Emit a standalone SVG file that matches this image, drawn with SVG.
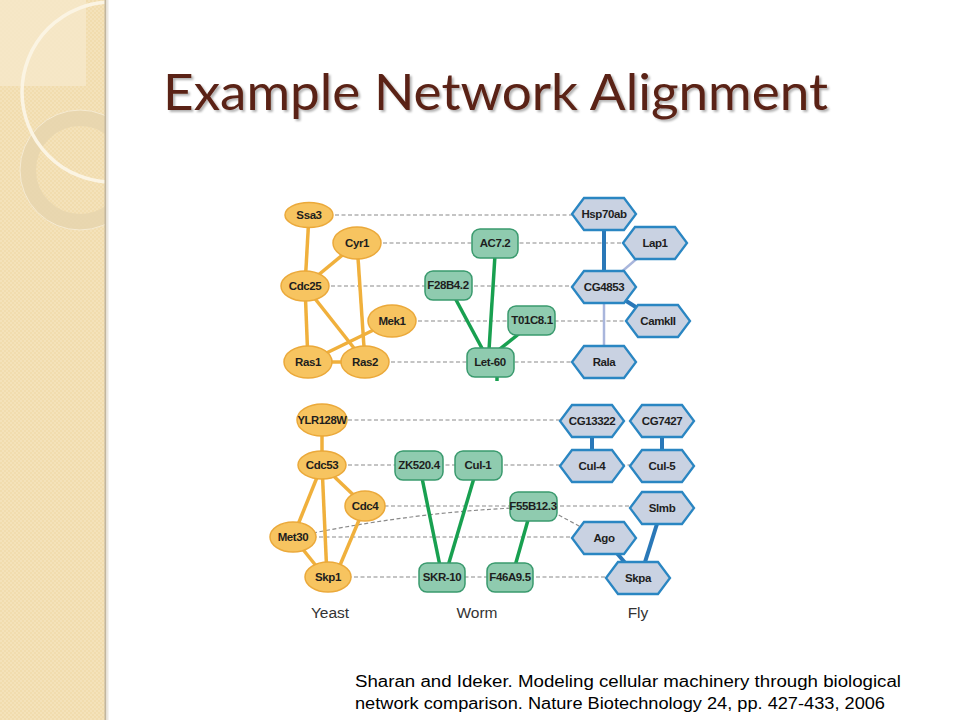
<svg xmlns="http://www.w3.org/2000/svg" width="960" height="720" viewBox="0 0 960 720">
<style>
.yn{fill:#F7C460;stroke:#EBA93A;stroke-width:1.5}
.wn{fill:#8FCBAF;stroke:#3A9A6E;stroke-width:1.5}
.fn{fill:#C9D2E2;stroke:#2A86C2;stroke-width:2.3}
.lbl{font-family:"Liberation Sans",Arial,sans-serif;font-weight:bold;font-size:11.5px;fill:#1E1E1E;text-anchor:middle;letter-spacing:-0.4px}
.sp{font-family:"Liberation Sans",Arial,sans-serif;font-size:15.5px;fill:#333;text-anchor:middle}
.ye{stroke:#F0B03C;stroke-width:3.5;fill:none}
.ge{stroke:#18A050;stroke-width:3.5;fill:none}
.bt{stroke:#2A78B8;stroke-width:4;fill:none}
.bl{stroke:#A9B6DC;stroke-width:2.5;fill:none}
.da{stroke:#8A8A8A;stroke-width:1.2;stroke-dasharray:4 2.5;fill:none}
</style>
<defs>
<pattern id="chk" width="4" height="4" patternUnits="userSpaceOnUse">
<rect width="4" height="4" fill="#F1DCAE"/>
<rect width="2" height="2" fill="#F4E2BA"/>
<rect x="2" y="2" width="2" height="2" fill="#F4E2BA"/>
</pattern>
<clipPath id="strip"><rect x="0" y="0" width="105" height="720"/></clipPath>
<filter id="shadow" x="-5%" y="-20%" width="110%" height="150%">
<feDropShadow dx="2" dy="2" stdDeviation="1" flood-color="#000" flood-opacity="0.3"/>
</filter>
<polygon id="hex" points="-32,0 -20,-16 20,-16 32,0 20,16 -20,16"/>
</defs>

<rect width="960" height="720" fill="#FFFFFF"/>

<g id="sidebar">
<rect x="0" y="0" width="105" height="720" fill="url(#chk)"/>
<g clip-path="url(#strip)">
<rect x="0" y="0" width="86" height="86" fill="#F6E9CB" opacity="0.8"/>
<circle cx="80" cy="170" r="52" fill="none" stroke="#E6D5AE" stroke-width="16" opacity="0.8"/>
<circle cx="80" cy="170" r="60" fill="none" stroke="#F6EBD2" stroke-width="1"/>
<circle cx="112" cy="92" r="90" fill="none" stroke="#FBF4E3" stroke-width="3.5"/>
</g>
<line x1="105.5" y1="0" x2="105.5" y2="720" stroke="#C2B69E" stroke-width="2"/>
<line x1="107.5" y1="0" x2="107.5" y2="720" stroke="#ECE8E0" stroke-width="2"/>
</g>

<g id="title">
<text x="163" y="110" font-family="Lato,'Open Sans',sans-serif" font-size="51" fill="#5A2214" filter="url(#shadow)" textLength="665" lengthAdjust="spacingAndGlyphs">Example Network Alignment</text>
</g>

<g id="connectors">
<line class="da" x1="309" y1="215" x2="604" y2="215"/>
<line class="da" x1="357" y1="243" x2="655" y2="243"/>
<line class="da" x1="305" y1="286" x2="604" y2="286"/>
<line class="da" x1="392" y1="321" x2="658" y2="321"/>
<line class="da" x1="365" y1="362" x2="604" y2="362"/>
<line class="da" x1="322" y1="420" x2="592" y2="420"/>
<line class="da" x1="322" y1="465" x2="662" y2="465"/>
<line class="da" x1="365" y1="506" x2="662" y2="506"/>
<path class="da" d="M 313 533 Q 420 512 515 508"/>
<line class="da" x1="553" y1="512" x2="592" y2="533"/>
<line class="da" x1="293" y1="537" x2="604" y2="537"/>
<line class="da" x1="328" y1="577" x2="638" y2="577"/>
<line class="ye" x1="309" y1="215" x2="305" y2="286"/>
<line class="ye" x1="357" y1="243" x2="305" y2="286"/>
<line class="ye" x1="357" y1="243" x2="365" y2="362"/>
<line class="ye" x1="305" y1="286" x2="308" y2="362"/>
<line class="ye" x1="305" y1="286" x2="365" y2="362"/>
<line class="ye" x1="392" y1="321" x2="308" y2="362"/>
<line class="ye" x1="308" y1="362" x2="365" y2="362"/>
<line class="ye" x1="322" y1="420" x2="322" y2="465"/>
<line class="ye" x1="322" y1="465" x2="293" y2="537"/>
<line class="ye" x1="322" y1="465" x2="327" y2="577"/>
<line class="ye" x1="322" y1="465" x2="365" y2="506"/>
<line class="ye" x1="365" y1="506" x2="335" y2="577"/>
<line class="ye" x1="293" y1="537" x2="325" y2="577"/>
<line class="ge" x1="495" y1="255" x2="489" y2="350"/>
<line class="ge" x1="455" y1="298" x2="484" y2="352"/>
<line class="ge" x1="520" y1="333" x2="496" y2="352"/>
<line class="ge" x1="497" y1="376" x2="497" y2="381" stroke-width="2.5"/>
<line class="ge" x1="422" y1="478" x2="440" y2="566"/>
<line class="ge" x1="474" y1="478" x2="448" y2="566"/>
<line class="ge" x1="528" y1="520" x2="515" y2="566"/>
<line class="bt" x1="604" y1="214" x2="604" y2="287"/>
<line class="bl" x1="655" y1="243" x2="604" y2="287"/>
<line class="bt" x1="604" y1="287" x2="658" y2="321"/>
<line class="bl" x1="604" y1="287" x2="604" y2="362"/>
<line class="bt" x1="592" y1="421" x2="592" y2="466"/>
<line class="bt" x1="662" y1="421" x2="662" y2="466"/>
<line class="bt" x1="662" y1="508" x2="640" y2="578"/>
<line class="bt" x1="604" y1="538" x2="638" y2="578"/>
</g>

<g id="n-Ssa3"><ellipse class="yn" cx="309" cy="215" rx="24" ry="12.5"/><text class="lbl" x="309" y="219">Ssa3</text></g>
<g id="n-Cyr1"><ellipse class="yn" cx="357" cy="243" rx="24" ry="16"/><text class="lbl" x="357" y="247">Cyr1</text></g>
<g id="n-Cdc25"><ellipse class="yn" cx="305" cy="286" rx="24" ry="15"/><text class="lbl" x="305" y="290">Cdc25</text></g>
<g id="n-Mek1"><ellipse class="yn" cx="392" cy="321" rx="24" ry="16"/><text class="lbl" x="392" y="325">Mek1</text></g>
<g id="n-Ras1"><ellipse class="yn" cx="308" cy="362" rx="24" ry="16"/><text class="lbl" x="308" y="366">Ras1</text></g>
<g id="n-Ras2"><ellipse class="yn" cx="365" cy="362" rx="24" ry="16"/><text class="lbl" x="365" y="366">Ras2</text></g>

<g id="n-AC7.2"><rect class="wn" x="472" y="229" width="46" height="29" rx="8"/><text class="lbl" x="495" y="247">AC7.2</text></g>
<g id="n-F28B4.2"><rect class="wn" x="425" y="271" width="47" height="29" rx="8"/><text class="lbl" x="448" y="289">F28B4.2</text></g>
<g id="n-T01C8.1"><rect class="wn" x="508" y="306" width="47" height="29" rx="8"/><text class="lbl" x="532" y="324">T01C8.1</text></g>
<g id="n-Let-60"><rect class="wn" x="467" y="348" width="47" height="29" rx="8"/><text class="lbl" x="490" y="366">Let-60</text></g>

<g id="n-Hsp70ab"><use href="#hex" class="fn" x="604" y="214"/><text class="lbl" x="604" y="218">Hsp70ab</text></g>
<g id="n-Lap1"><use href="#hex" class="fn" x="655" y="243"/><text class="lbl" x="655" y="247">Lap1</text></g>
<g id="n-CG4853"><use href="#hex" class="fn" x="604" y="287"/><text class="lbl" x="604" y="291">CG4853</text></g>
<g id="n-CamkII"><use href="#hex" class="fn" x="658" y="321"/><text class="lbl" x="658" y="325">CamkII</text></g>
<g id="n-Rala"><use href="#hex" class="fn" x="604" y="362"/><text class="lbl" x="604" y="366">Rala</text></g>

<g id="n-YLR128W"><ellipse class="yn" cx="322" cy="420" rx="25" ry="16"/><text class="lbl" x="322" y="424" textLength="49" lengthAdjust="spacingAndGlyphs">YLR128W</text></g>
<g id="n-Cdc53"><ellipse class="yn" cx="322" cy="465" rx="24" ry="14"/><text class="lbl" x="322" y="469">Cdc53</text></g>
<g id="n-Cdc4"><ellipse class="yn" cx="365" cy="506" rx="20" ry="15"/><text class="lbl" x="365" y="510">Cdc4</text></g>
<g id="n-Met30"><ellipse class="yn" cx="293" cy="537" rx="23" ry="15"/><text class="lbl" x="293" y="541">Met30</text></g>
<g id="n-Skp1"><ellipse class="yn" cx="328" cy="577" rx="23" ry="15"/><text class="lbl" x="328" y="581">Skp1</text></g>

<g id="n-ZK520.4"><rect class="wn" x="395" y="451" width="48" height="29" rx="8"/><text class="lbl" x="419" y="469">ZK520.4</text></g>
<g id="n-Cul-1"><rect class="wn" x="455" y="451" width="47" height="29" rx="8"/><text class="lbl" x="478" y="469">Cul-1</text></g>
<g id="n-F55B12.3"><rect class="wn" x="510" y="492" width="47" height="29" rx="8"/><text class="lbl" x="533" y="510">F55B12.3</text></g>
<g id="n-SKR-10"><rect class="wn" x="419" y="563" width="46" height="29" rx="8"/><text class="lbl" x="442" y="581">SKR-10</text></g>
<g id="n-F46A9.5"><rect class="wn" x="487" y="563" width="46" height="29" rx="8"/><text class="lbl" x="510" y="581">F46A9.5</text></g>

<g id="n-CG13322"><use href="#hex" class="fn" x="592" y="421"/><text class="lbl" x="592" y="425">CG13322</text></g>
<g id="n-CG7427"><use href="#hex" class="fn" x="662" y="421"/><text class="lbl" x="662" y="425">CG7427</text></g>
<g id="n-Cul-4"><use href="#hex" class="fn" x="592" y="466"/><text class="lbl" x="592" y="470">Cul-4</text></g>
<g id="n-Cul-5"><use href="#hex" class="fn" x="662" y="466"/><text class="lbl" x="662" y="470">Cul-5</text></g>
<g id="n-Slmb"><use href="#hex" class="fn" x="662" y="508"/><text class="lbl" x="662" y="512">Slmb</text></g>
<g id="n-Ago"><use href="#hex" class="fn" x="604" y="538"/><text class="lbl" x="604" y="542">Ago</text></g>
<g id="n-Skpa"><use href="#hex" class="fn" x="638" y="578"/><text class="lbl" x="638" y="582">Skpa</text></g>

<g id="species">
<text class="sp" x="330" y="618">Yeast</text>
<text class="sp" x="477" y="618">Worm</text>
<text class="sp" x="638" y="618">Fly</text>
</g>

<g id="citation" font-family="'Liberation Sans',Arial,sans-serif" font-size="16" fill="#000">
<text x="355" y="687" textLength="546" lengthAdjust="spacingAndGlyphs">Sharan and Ideker. Modeling cellular machinery through biological</text>
<text x="355" y="709" textLength="530" lengthAdjust="spacingAndGlyphs">network comparison. Nature Biotechnology 24, pp. 427-433, 2006</text>
</g>
</svg>
